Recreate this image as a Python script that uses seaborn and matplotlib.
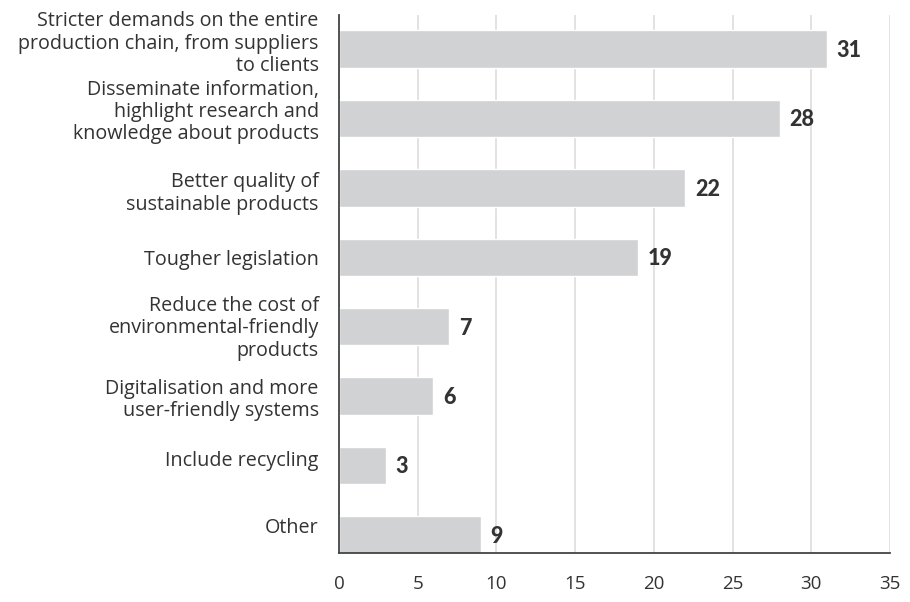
import matplotlib
matplotlib.use("Agg")
import matplotlib.pyplot as plt
import matplotlib.transforms as mtransforms
import seaborn as sns
import pandas as pd

categories = [
    "Stricter demands on the entire\nproduction chain, from suppliers\nto clients",
    "Disseminate information,\nhighlight research and\nknowledge about products",
    "Better quality of\nsustainable products",
    "Tougher legislation",
    "Reduce the cost of\nenvironmental-friendly\nproducts",
    "Digitalisation and more\nuser-friendly systems",
    "Include recycling",
    "Other",
]
values = [31, 28, 22, 19, 7, 6, 3, 9]
xticks = [0, 5, 10, 15, 20, 25, 30, 35]
# vertical nudges of category labels, in pixels (up = positive)
label_nudge_px = [9, 10, -2, 0, 2, 0, 7, 9]

df = pd.DataFrame({"cat": categories, "val": values})

sns.set_style("white")
plt.rcParams['font.family'] = ['Open Sans', 'DejaVu Sans']

fig = plt.figure(figsize=(9.1, 6.02), dpi=100)
ax = fig.add_axes([339/910, 1 - 553/602, (890-339)/910, (553-15)/602])

sns.barplot(data=df, x="val", y="cat", color="#d1d2d4", width=0.54,
            saturation=1, ax=ax, zorder=2)

ax.set_xlim(0, 35)
ax.set_ylim(7.26, -0.49)
ax.set_xticks(xticks)
ax.set_xticklabels([str(t) for t in xticks], fontsize=13.5, color="#333333")
ax.tick_params(axis="y", labelsize=14.2, colors="#333333", length=0, pad=14.5)
ax.tick_params(axis="x", length=0, pad=16)
for lbl, nud in zip(ax.get_yticklabels(), label_nudge_px):
    lbl.set_linespacing(1.15)
    lbl.set_transform(lbl.get_transform() +
                      mtransforms.ScaledTranslation(0, nud / 100, fig.dpi_scale_trans))
ax.set_xlabel("")
ax.set_ylabel("")
ax.xaxis.grid(True, color="#dddddd", linewidth=1.2, zorder=0)
ax.set_axisbelow(True)
for s in ["top", "right"]:
    ax.spines[s].set_visible(False)
for s in ["left", "bottom"]:
    ax.spines[s].set_color("#444444")
    ax.spines[s].set_linewidth(1.3)

for i, v in enumerate(values):
    ax.text(v + 0.6, i + 0.02, str(v), va="center", ha="left", fontsize=15.5,
            fontweight="black", family=["Lato", "DejaVu Sans"], color="#333333")

fig.savefig("out.png", dpi=100)
